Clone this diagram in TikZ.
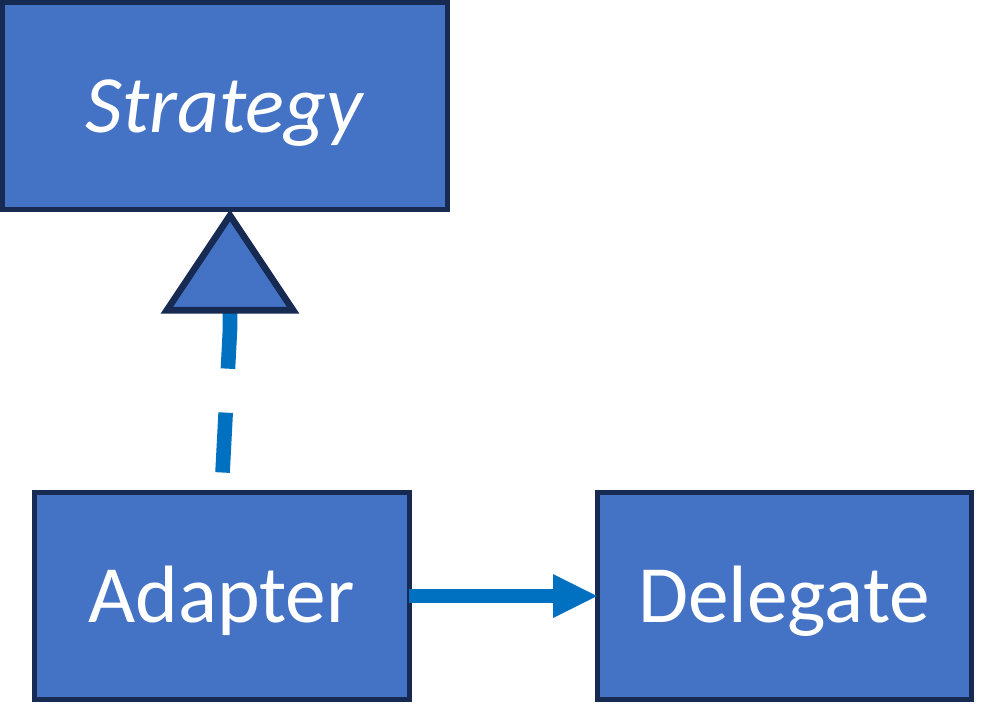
\documentclass[tikz,border=0pt]{standalone}
\usepackage{fontspec}
\setmainfont{Carlito}
\usetikzlibrary{arrows.meta, positioning}
\definecolor{boxblue}{HTML}{4472C4}
\definecolor{boxline}{HTML}{172B52}
\definecolor{linkblue}{HTML}{0070C0}

\begin{document}
\begin{tikzpicture}[x=0.5pt, y=-0.5pt, node distance=94pt,
    classbox/.style={rectangle, draw=boxline, fill=boxblue, line width=2.5pt, outer sep=0pt,
      minimum height=103.5pt, text=white, font=\fontsize{40.7}{48}\selectfont,
      text height=26.2pt, text depth=0pt},
    realize/.style={draw=linkblue, line width=7.3pt, dash pattern=on 30pt off 22pt, dash phase=42pt,
      -{Triangle[length=52pt, width=68.5pt, color=boxline, fill=boxblue, line width'=3.3pt]}},
    uses/.style={draw=linkblue, line width=7pt, -{Triangle[length=22pt, width=22pt, line width'=0pt]}}]
  \useasboundingbox (0,0) rectangle (982,703);
  \node (strategy) [classbox, minimum width=222.5pt] at (225,106) {\textit{Strategy}};
  \node (adapter) [classbox, minimum width=187.5pt] at (221.5,596) {Adapter};
  \node (delegate) [classbox, minimum width=187pt, right=of adapter] {Delegate};

  % short straight end keeps the triangle level
  \draw [realize] (adapter.north) -- ([xshift=2.5pt, yshift=-60pt]strategy.south)
    -- ([xshift=2.5pt]strategy.south);
  \draw [uses] (adapter.east) -- (delegate.west);
\end{tikzpicture}
\end{document}
